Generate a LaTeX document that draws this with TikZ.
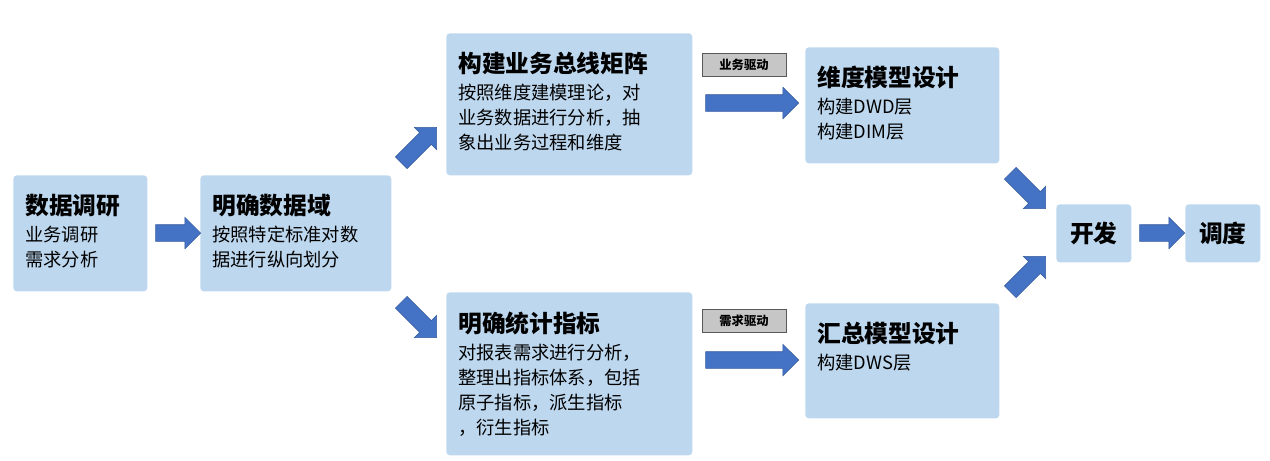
\documentclass[tikz,border=0pt]{standalone}
\usepackage{fontspec}
\setmainfont{Noto Sans CJK SC}
\usetikzlibrary{shapes.arrows,positioning}
\definecolor{boxblue}{HTML}{BDD7EE}
\definecolor{arrowblue}{HTML}{4472C4}
\tikzset{stage/.style={rectangle,fill=boxblue,rounded corners=2pt,anchor=north west,inner sep=0pt}}
\tikzset{stagetext/.style={anchor=north west,align=left,inner sep=0pt,font=\fontsize{10.4}{14.2}\selectfont}}
\tikzset{blockarrow/.style={single arrow,fill=arrowblue,draw=arrowblue!80!black,line width=0.3pt,minimum height=#1,inner sep=0.16cm,single arrow head extend=0.15cm}}
\tikzset{drive/.style={rectangle,draw=gray!70!black,fill=gray!45,line width=0.3pt,minimum width=1.68cm,minimum height=0.46cm,inner sep=0pt,font=\fontsize{7}{8}\selectfont\bfseries}}
\newcommand{\headline}[1]{{\fontsize{13.5}{17}\selectfont\bfseries #1}\\[1pt]}

\begin{document}
\begin{tikzpicture}[x=0.02cm,y=-0.02cm]
    \useasboundingbox (0,0) rectangle (1270,460);

    % stages
    \node[stage,minimum width=2.68cm,minimum height=2.32cm] (survey) at (13,175) {};
    \node[stage,minimum width=3.82cm,minimum height=2.32cm] (domain) at (200,175) {};
    \node[stage,minimum width=4.92cm,minimum height=2.84cm] (matrix) at (446,33) {};
    \node[stage,minimum width=4.92cm,minimum height=3.26cm] (metric) at (446,292) {};
    \node[stage,minimum width=3.88cm,minimum height=2.32cm] (dimmodel) at (805,47) {};
    \node[stage,minimum width=3.88cm,minimum height=2.30cm] (summodel) at (805,303) {};
    \node[stage,minimum width=1.50cm,minimum height=1.16cm] (dev) at (1056,204) {};
    \node[stage,minimum width=1.50cm,minimum height=1.16cm] (sched) at (1185,204) {};

    % texts
    \node[stagetext] at (25,194) {\headline{数据调研}业务调研\\需求分析};
    \node[stagetext] at (212,194) {\headline{明确数据域}按照特定标准对数\\据进行纵向划分};
    \node[stagetext] at (458,52) {\headline{构建业务总线矩阵}按照维度建模理论，对\\业务数据进行分析，抽\\象出业务过程和维度};
    \node[stagetext] at (458,312) {\headline{明确统计指标}对报表需求进行分析，\\整理出指标体系，包括\\原子指标，派生指标\\，衍生指标};
    \node[stagetext] at (817,66) {\headline{维度模型设计}构建DWD层\\构建DIM层};
    \node[stagetext] at (817,322) {\headline{汇总模型设计}构建DWS层};
    \node[font=\fontsize{13.5}{17}\selectfont\bfseries] at (dev.center) {开发};
    \node[font=\fontsize{13.5}{17}\selectfont\bfseries] at (sched.center) {调度};

    % drivers
    \node[drive] (bizdrive) at (744,65) {业务驱动};
    \node[drive] (reqdrive) at (744,321) {需求驱动};

    % arrows
    \node[blockarrow=0.9cm] (a1) at (174,233) {};
    \node[blockarrow=1.86cm] (a2) at (748,103) {};
    \node[blockarrow=1.86cm] (a3) at (748,360) {};
    \node[blockarrow=0.9cm] (a4) at (1158,233) {};
    \node[blockarrow=1.0cm,rotate=45] (a5) at (416,148) {};
    \node[blockarrow=1.0cm,rotate=-45] (a6) at (416,317) {};
    \node[blockarrow=1.0cm,rotate=-45] (a7) at (1025,188) {};
    \node[blockarrow=1.0cm,rotate=45] (a8) at (1025,277) {};
\end{tikzpicture}
\end{document}
